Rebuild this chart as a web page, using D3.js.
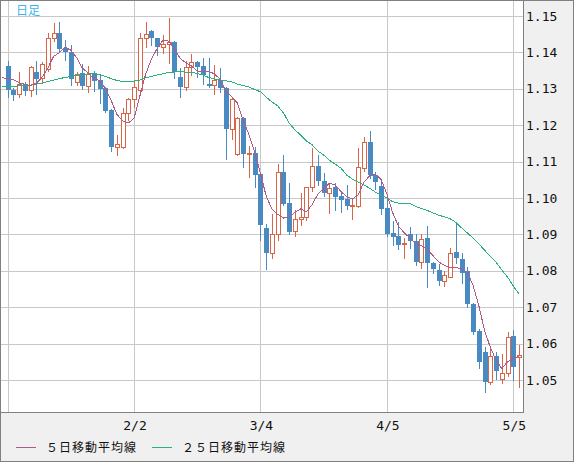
<!DOCTYPE html>
<html>
<head>
<meta charset="utf-8">
<script src="https://cdn.jsdelivr.net/npm/d3@7"></script>
<style>
  body { margin: 0; background: #f0f0f0; }
</style>
</head>
<body>
<div id="chart"></div>
<script>
// trading days, Jan 3 - May 6
const dates = [
  '1/3','1/4','1/5','1/6','1/7','1/10','1/11','1/12','1/13','1/14','1/17','1/18','1/19','1/20','1/21',
  '1/24','1/25','1/26','1/27','1/28','1/31',
  '2/1','2/2','2/3','2/4','2/7','2/8','2/9','2/10','2/11','2/14','2/15','2/16','2/17','2/18',
  '2/21','2/22','2/23','2/24','2/25','2/28',
  '3/1','3/2','3/3','3/4','3/7','3/8','3/9','3/10','3/11','3/14','3/15','3/16','3/17','3/18',
  '3/21','3/22','3/23','3/24','3/25','3/28','3/29','3/30','3/31',
  '4/1','4/4','4/5','4/6','4/7','4/8','4/11','4/12','4/13','4/14','4/15','4/18','4/19','4/20',
  '4/21','4/22','4/25','4/26','4/27','4/28','4/29',
  '5/2','5/3','5/4','5/5','5/6'
];

const open = [
  1.1363,1.1297,1.1285,1.1312,1.1297,1.1347,1.1329,1.1354,1.1439,1.1453,
  1.1409,1.1402,1.1320,1.1343,1.1309,1.1341,1.1324,1.1302,1.1242,1.1141,
  1.1139,1.1233,1.1271,1.1297,1.1439,1.1459,1.1439,1.1416,1.1422,1.1428,
  1.1333,1.1306,1.1359,1.1373,1.1363,1.1313,1.1310,1.1324,1.1301,1.1190,
  1.1121,1.1219,1.1121,1.1123,1.1066,1.0918,1.0850,1.0901,1.1071,1.0985,
  1.0908,1.0941,1.0947,1.1029,1.1087,1.1047,1.1015,1.1029,1.1005,1.0996,
  1.0979,1.0979,1.1082,1.1154,1.1063,1.1033,1.0973,1.0903,1.0896,1.0875,
  1.0901,1.0883,1.0823,1.0890,1.0822,1.0802,1.0773,1.0784,1.0851,1.0832,
  1.0799,1.0708,1.0635,1.0576,1.0494,1.0566,1.0502,1.0519,1.0621,1.0562
];
const high = [
  1.1376,1.1303,1.1345,1.1318,1.1363,1.1376,1.1373,1.1452,1.1482,1.1483,
  1.1434,1.1420,1.1345,1.1369,1.1363,1.1350,1.1338,1.1306,1.1245,1.1173,
  1.1247,1.1276,1.1323,1.1452,1.1483,1.1462,1.1440,1.1448,1.1494,1.1430,
  1.1356,1.1376,1.1395,1.1375,1.1385,1.1385,1.1365,1.1356,1.1306,1.1277,
  1.1223,1.1222,1.1143,1.1141,1.1070,1.0929,1.0956,1.1093,1.1118,1.1040,
  1.0966,1.1015,1.1031,1.1137,1.1118,1.1068,1.1041,1.1040,1.1017,1.1036,
  1.0996,1.1137,1.1168,1.1184,1.1072,1.1048,1.1002,1.0938,1.0935,1.0889,
  1.0920,1.0900,1.0900,1.0923,1.0825,1.0820,1.0800,1.0862,1.0930,1.0850,
  1.0810,1.0712,1.0640,1.0590,1.0592,1.0578,1.0571,1.0633,1.0637,1.0596
];
const low = [
  1.1278,1.1269,1.1278,1.1283,1.1281,1.1286,1.1317,1.1350,1.1430,1.1400,
  1.1379,1.1310,1.1310,1.1300,1.1290,1.1295,1.1262,1.1235,1.1130,1.1118,
  1.1136,1.1214,1.1250,1.1290,1.1416,1.1420,1.1393,1.1399,1.1372,1.1329,
  1.1278,1.1297,1.1338,1.1333,1.1314,1.1304,1.1287,1.1290,1.1106,1.1163,
  1.1118,1.1086,1.1057,1.1031,1.0885,1.0804,1.0834,1.0885,1.0980,1.0900,
  1.0896,1.0925,1.0940,1.1020,1.1035,1.1005,1.0958,1.0967,1.0962,1.0970,
  1.0941,1.0975,1.1075,1.1055,1.1024,1.0956,1.0895,1.0871,1.0860,1.0834,
  1.0862,1.0815,1.0808,1.0755,1.0793,1.0760,1.0759,1.0784,1.0821,1.0767,
  1.0700,1.0626,1.0532,1.0468,1.0490,1.0502,1.0493,1.0512,1.0500,1.0480
];
const close = [
  1.1297,1.1284,1.1312,1.1295,1.1359,1.1327,1.1367,1.1439,1.1452,1.1409,
  1.1402,1.1326,1.1341,1.1309,1.1341,1.1322,1.1300,1.1240,1.1141,1.1147,
  1.1233,1.1271,1.1304,1.1439,1.1450,1.1439,1.1416,1.1422,1.1428,1.1347,
  1.1306,1.1359,1.1373,1.1361,1.1338,1.1308,1.1324,1.1301,1.1190,1.1271,
  1.1219,1.1121,1.1124,1.1063,1.0927,1.0850,1.0901,1.1071,1.0984,1.0907,
  1.0941,1.0948,1.1029,1.1087,1.1048,1.1015,1.1027,1.1004,1.0995,1.0979,
  1.0981,1.1084,1.1153,1.1063,1.1045,1.0971,1.0902,1.0894,1.0871,1.0877,
  1.0883,1.0825,1.0887,1.0822,1.0806,1.0773,1.0788,1.0848,1.0834,1.0795,
  1.0708,1.0633,1.0549,1.0494,1.0566,1.0526,1.0520,1.0619,1.0537,1.0569
];

// moving averages; first value is the day before 1/3
const ma5 = [
  1.1330,
  1.1329,1.1325,1.1317,1.1312,1.1309,1.1315,1.1332,1.1357,1.1389,1.1399,
  1.1414,1.1406,1.1386,1.1357,1.1344,1.1328,1.1323,1.1302,1.1269,1.1230,
  1.1212,1.1206,1.1219,1.1279,1.1339,1.1381,1.1410,1.1433,1.1431,1.1410,
  1.1384,1.1372,1.1363,1.1349,1.1347,1.1348,1.1341,1.1326,1.1292,1.1279,
  1.1261,1.1213,1.1174,1.1125,1.1068,1.1005,1.0970,1.0955,1.0945,1.0946,
  1.0961,1.0970,1.0962,1.0982,1.1011,1.1025,1.1041,1.1036,1.1018,1.1004,
  1.0997,1.1009,1.1043,1.1061,1.1065,1.1051,1.1011,1.0960,1.0923,1.0905,
  1.0890,1.0875,1.0869,1.0859,1.0842,1.0825,1.0815,1.0809,1.0809,1.0806,
  1.0796,1.0760,1.0704,1.0636,1.0590,1.0554,1.0531,1.0550,1.0560,1.0565
];
const ma25 = [
  1.1307,
  1.1307,1.1307,1.1308,1.1309,1.1310,1.1313,1.1316,1.1320,1.1324,1.1328,
  1.1331,1.1334,1.1336,1.1338,1.1341,1.1343,1.1339,1.1334,1.1328,1.1323,
  1.1320,1.1320,1.1321,1.1324,1.1330,1.1334,1.1338,1.1341,1.1345,1.1346,
  1.1347,1.1346,1.1345,1.1342,1.1338,1.1331,1.1327,1.1324,1.1322,1.1319,
  1.1313,1.1309,1.1305,1.1298,1.1292,1.1277,1.1264,1.1253,1.1234,1.1206,
  1.1187,1.1173,1.1157,1.1146,1.1129,1.1118,1.1104,1.1093,1.1082,1.1063,
  1.1052,1.1044,1.1036,1.1027,1.1016,1.1008,1.1000,1.0990,1.0986,1.0985,
  1.0985,1.0977,1.0971,1.0966,1.0959,1.0953,1.0948,1.0943,1.0933,1.0918,
  1.0904,1.0890,1.0874,1.0857,1.0839,1.0824,1.0802,1.0783,1.0758,1.0736
];

const gridDates = ['1/3', '2/2', '3/4', '4/5', '5/5'];
const labelDates = ['2/2', '3/4', '4/5', '5/5'];
const yTicks = [1.05, 1.06, 1.07, 1.08, 1.09, 1.10, 1.11, 1.12, 1.13, 1.14, 1.15];
const legendItems = ['５日移動平均線', '２５日移動平均線'];

const W = 574, H = 462;
const plot = { left: 1, top: 1, right: 523, bottom: 412 };
const upColor = '#da6446', downColor = '#4a8ac3';
const ma5Color = '#b05a8a', ma25Color = '#29b377';

const svg = d3.select('div#chart')
  .append('svg')
  .attr('width', W)
  .attr('height', H)
  .style('display', 'block');

// frame + background
svg.append('rect')
  .attr('x', 0.5).attr('y', 0.5)
  .attr('width', W - 1).attr('height', H - 1)
  .attr('fill', '#f0f0f0')
  .attr('stroke', '#808080');

svg.append('rect')
  .attr('x', plot.left).attr('y', plot.top)
  .attr('width', plot.right - plot.left).attr('height', plot.bottom - plot.top)
  .attr('fill', '#fff');

svg.append('clipPath').attr('id', 'clip')
  .append('rect')
  .attr('x', plot.left).attr('y', plot.top)
  .attr('width', plot.right - plot.left).attr('height', plot.bottom - plot.top);

const x = d3.scaleLinear().domain([0, dates.length - 2]).range([7.6, 513.3]);
const y = d3.scaleLinear().domain([1.05, 1.15]).range([380, 16]);
const px = v => Math.round(v) + 0.5;

// grid
const grid = svg.append('g').attr('shape-rendering', 'crispEdges');
grid.selectAll('line.h')
  .data(yTicks)
  .enter()
  .append('line')
  .attr('x1', plot.left).attr('x2', plot.right)
  .attr('y1', d => px(y(d))).attr('y2', d => px(y(d)))
  .attr('stroke', '#c8c8c8');
grid.selectAll('line.v')
  .data(gridDates)
  .enter()
  .append('line')
  .attr('x1', d => px(x(dates.indexOf(d)))).attr('x2', d => px(x(dates.indexOf(d))))
  .attr('y1', plot.top).attr('y2', plot.bottom)
  .attr('stroke', '#c8c8c8');

const g = svg.append('g').attr('clip-path', 'url(#clip)');

// candles
const candles = g.selectAll('g.candle')
  .data(dates.map((d, i) => ({ i, o: open[i], h: high[i], l: low[i], c: close[i] })))
  .enter()
  .append('g')
  .attr('shape-rendering', 'crispEdges');

candles.append('line')
  .attr('x1', d => px(x(d.i))).attr('x2', d => px(x(d.i)))
  .attr('y1', d => Math.round(y(d.h))).attr('y2', d => Math.round(y(d.l)) + 1)
  .attr('stroke', d => d.c >= d.o ? upColor : downColor);

candles.filter(d => d.c >= d.o)
  .append('rect')
  .attr('x', d => Math.round(x(d.i)) - 1.5)
  .attr('y', d => Math.round(y(d.c)) + 0.5)
  .attr('width', 4)
  .attr('height', d => Math.max(1, Math.round(y(d.o)) - Math.round(y(d.c))))
  .attr('fill', '#fff')
  .attr('stroke', upColor);

candles.filter(d => d.c < d.o)
  .append('rect')
  .attr('x', d => Math.round(x(d.i)) - 2)
  .attr('y', d => Math.round(y(d.o)))
  .attr('width', 5)
  .attr('height', d => Math.max(1, Math.round(y(d.c)) - Math.round(y(d.o))))
  .attr('fill', downColor);

// moving averages (aliased, like the original)
const line = d3.line().x((d, i) => x(i - 1)).y(d => y(d));
g.append('path').datum(ma25)
  .attr('d', line).attr('fill', 'none')
  .attr('stroke', ma25Color).attr('stroke-width', 1)
  .attr('shape-rendering', 'crispEdges');
g.append('path').datum(ma5)
  .attr('d', line).attr('fill', 'none')
  .attr('stroke', ma5Color).attr('stroke-width', 1)
  .attr('shape-rendering', 'crispEdges');

// plot border (right / bottom)
svg.append('path')
  .attr('d', `M${plot.right + 0.5},0 V${plot.bottom + 0.5} H0`)
  .attr('fill', 'none')
  .attr('stroke', '#808080')
  .attr('shape-rendering', 'crispEdges');

// axes
const yAxis = d3.axisRight(y).tickValues(yTicks).tickSize(0).tickPadding(3).tickFormat(d3.format('.2f'));
svg.append('g')
  .attr('transform', `translate(${plot.right},0)`)
  .call(yAxis)
  .call(a => a.select('.domain').remove())
  .selectAll('text')
  .style('font-family', '"DejaVu Sans Mono", monospace')
  .style('font-size', '13px')
  .attr('fill', '#111');

const xAxis = d3.axisBottom(x)
  .tickValues(labelDates.map(d => dates.indexOf(d)))
  .tickFormat(i => dates[i])
  .tickSize(0).tickPadding(9);
svg.append('g')
  .attr('transform', `translate(0.5,${plot.bottom})`)
  .call(xAxis)
  .call(a => a.select('.domain').remove())
  .selectAll('text')
  .style('font-family', '"DejaVu Sans Mono", monospace')
  .style('font-size', '13px')
  .attr('fill', '#111');

// title
svg.append('text')
  .attr('x', 16).attr('y', 15)
  .text('日足')
  .style('font-family', '"Noto Sans CJK JP", sans-serif')
  .style('font-size', '12px')
  .attr('fill', '#3cb6ea');

// legend
const legend = svg.append('g');
const lx = [16, 152];
legendItems.forEach((t, k) => {
  legend.append('line')
    .attr('x1', lx[k]).attr('x2', lx[k] + 20)
    .attr('y1', 447.5).attr('y2', 447.5)
    .attr('stroke', k === 0 ? ma5Color : ma25Color)
    .attr('shape-rendering', 'crispEdges');
  legend.append('text')
    .attr('x', lx[k] + 30).attr('y', 452)
    .text(t)
    .style('font-family', '"Noto Sans CJK JP", sans-serif')
    .style('font-size', '12px')
    .style('letter-spacing', '1px')
    .attr('fill', '#111');
});
</script>
</body>
</html>
